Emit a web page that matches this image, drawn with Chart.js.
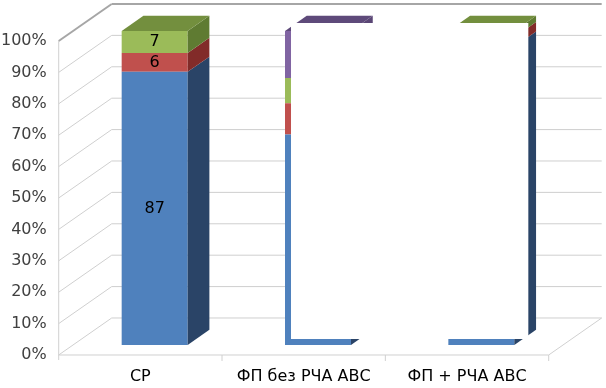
<!DOCTYPE html>
<html>
<head>
<meta charset="utf-8">
<script src="https://cdn.jsdelivr.net/npm/chart.js@4.4.1/dist/chart.umd.min.js"></script>
<style>
  html, body { margin: 0; padding: 0; background: #fff; }
  #wrap { width: 606px; height: 388px; }
</style>
</head>
<body>
<div id="wrap"><canvas id="chart"></canvas></div>
<script>
const categories = ['СР', 'ФП без РЧА АВС', 'ФП + РЧА АВС'];
const blueValues = [87, 67, 95];
const redValues = [6, 10, 3];
const greenValues = [7, 8, 2];
const purpleValues = [0, 15, 0];

const frontColors = ['#4f81bd', '#c0504d', '#9bbb59', '#8064a2'];
const sideColors = ['#2a4467', '#822b29', '#5f7b32', '#5a4675'];
const topColors = ['#3d6594', '#9a3b39', '#738f3e', '#5e4a7a'];

// depth of the whole box, bars sit between 0.27 and 0.68 of it
const depth = { x: 53, y: -37 };
const frontF = 0.27;
const barF = 0.41;

const font = '16px "DejaVu Sans"';

const threeD = {
  id: 'threeD',
  beforeDatasetsDraw(chart) {
    const ctx = chart.ctx;
    const a = chart.chartArea;
    const yScale = chart.scales.y;
    const xScale = chart.scales.x;
    const fx = -depth.x * frontF, fy = -depth.y * frontF;
    const bx = depth.x * (1 - frontF), by = depth.y * (1 - frontF);
    ctx.save();
    ctx.lineWidth = 1;
    yScale.ticks.forEach(t => {
      const py = yScale.getPixelForValue(t.value);
      const top = t.value === 100;
      ctx.strokeStyle = top ? '#a6a6a6' : '#cfcfcf';
      ctx.lineWidth = top ? 2 : 1;
      // back wall
      ctx.beginPath();
      ctx.moveTo(a.left + bx, py + by);
      ctx.lineTo(a.right + bx, py + by);
      ctx.stroke();
      // side wall
      ctx.beginPath();
      ctx.moveTo(a.left + fx, py + fy);
      ctx.lineTo(a.left + bx, py + by);
      ctx.stroke();
      // labels
      ctx.fillStyle = '#404040';
      ctx.font = font;
      ctx.textAlign = 'right';
      ctx.textBaseline = 'middle';
      ctx.fillText(t.value + '%', a.left + fx - 12, py + fy);
    });
    // front axis line and floor
    ctx.strokeStyle = '#d0d0d0';
    ctx.lineWidth = 1;
    ctx.beginPath();
    ctx.moveTo(a.left + fx, a.top + fy);
    ctx.lineTo(a.left + fx, a.bottom + fy + 5);
    ctx.moveTo(a.left + fx, a.bottom + fy);
    ctx.lineTo(a.right + fx, a.bottom + fy);
    ctx.lineTo(a.right + bx, a.bottom + by);
    ctx.stroke();
    // category separators on the floor edge
    for (let i = 0; i < categories.length; i++) {
      const sx = xScale.getPixelForValue(i) + xScale.width / categories.length / 2 + fx;
      ctx.beginPath();
      ctx.moveTo(sx, a.bottom + fy);
      ctx.lineTo(sx, a.bottom + fy + 6);
      ctx.stroke();
    }
    // category labels
    ctx.fillStyle = '#000';
    ctx.font = font;
    ctx.textAlign = 'center';
    ctx.textBaseline = 'middle';
    categories.forEach((c, i) => {
      ctx.fillText(c, xScale.getPixelForValue(i) + fx, a.bottom + fy + 22);
    });
    ctx.restore();
  },
  afterDatasetsDraw(chart) {
    const ctx = chart.ctx;
    const a = chart.chartArea;
    const dx = depth.x * barF, dy = depth.y * barF;
    const n = chart.data.datasets.length;
    ctx.save();
    for (let d = 0; d < n; d++) {
      const meta = chart.getDatasetMeta(d);
      const values = chart.data.datasets[d].data;
      meta.data.forEach((el, i) => {
        if (!values[i]) return;
        const r = el.x + el.width / 2, l = el.x - el.width / 2;
        ctx.fillStyle = sideColors[d];
        ctx.beginPath();
        ctx.moveTo(r, el.y);
        ctx.lineTo(r + dx, el.y + dy);
        ctx.lineTo(r + dx, el.base + dy);
        ctx.lineTo(r, el.base);
        ctx.closePath();
        ctx.fill();
        let isTop = true;
        for (let k = d + 1; k < n; k++) if (chart.data.datasets[k].data[i]) isTop = false;
        if (isTop) {
          ctx.fillStyle = topColors[d];
          ctx.beginPath();
          ctx.moveTo(l, el.y);
          ctx.lineTo(l + dx, el.y + dy);
          ctx.lineTo(r + dx, el.y + dy);
          ctx.lineTo(r, el.y);
          ctx.closePath();
          ctx.fill();
        }
        ctx.fillStyle = '#000';
        ctx.font = font;
        ctx.textAlign = 'center';
        ctx.textBaseline = 'middle';
        ctx.fillText(String(values[i]), el.x, (el.y + el.base) / 2);
      });
    }
    // white patch covering the second and third columns, as in the picture
    const bars = chart.getDatasetMeta(0).data;
    const left = bars[1].x - bars[1].width / 2 + 6;
    const right = bars[2].x + bars[2].width / 2 + 14;
    ctx.fillStyle = '#fff';
    ctx.fillRect(left, a.top - 8, right - left, a.bottom - a.top + 2);
    ctx.restore();
  }
};

const mk = (label, data, i) => ({
  label, data,
  backgroundColor: frontColors[i],
  borderWidth: 0,
  barPercentage: 0.404,
  categoryPercentage: 1
});

new Chart(document.querySelector('#chart').getContext('2d'), {
  type: 'bar',
  data: {
    labels: categories,
    datasets: [
      mk('blue', blueValues, 0),
      mk('red', redValues, 1),
      mk('green', greenValues, 2),
      mk('purple', purpleValues, 3)
    ]
  },
  options: {
    responsive: true,
    maintainAspectRatio: false,
    animation: false,
    layout: { padding: { left: 73, right: 43, top: 31, bottom: 43 } },
    plugins: { legend: { display: false }, tooltip: { enabled: false } },
    scales: {
      x: { stacked: true, display: false },
      y: { stacked: true, display: false, min: 0, max: 100, ticks: { stepSize: 10 } }
    }
  },
  plugins: [threeD]
});
</script>
</body>
</html>
